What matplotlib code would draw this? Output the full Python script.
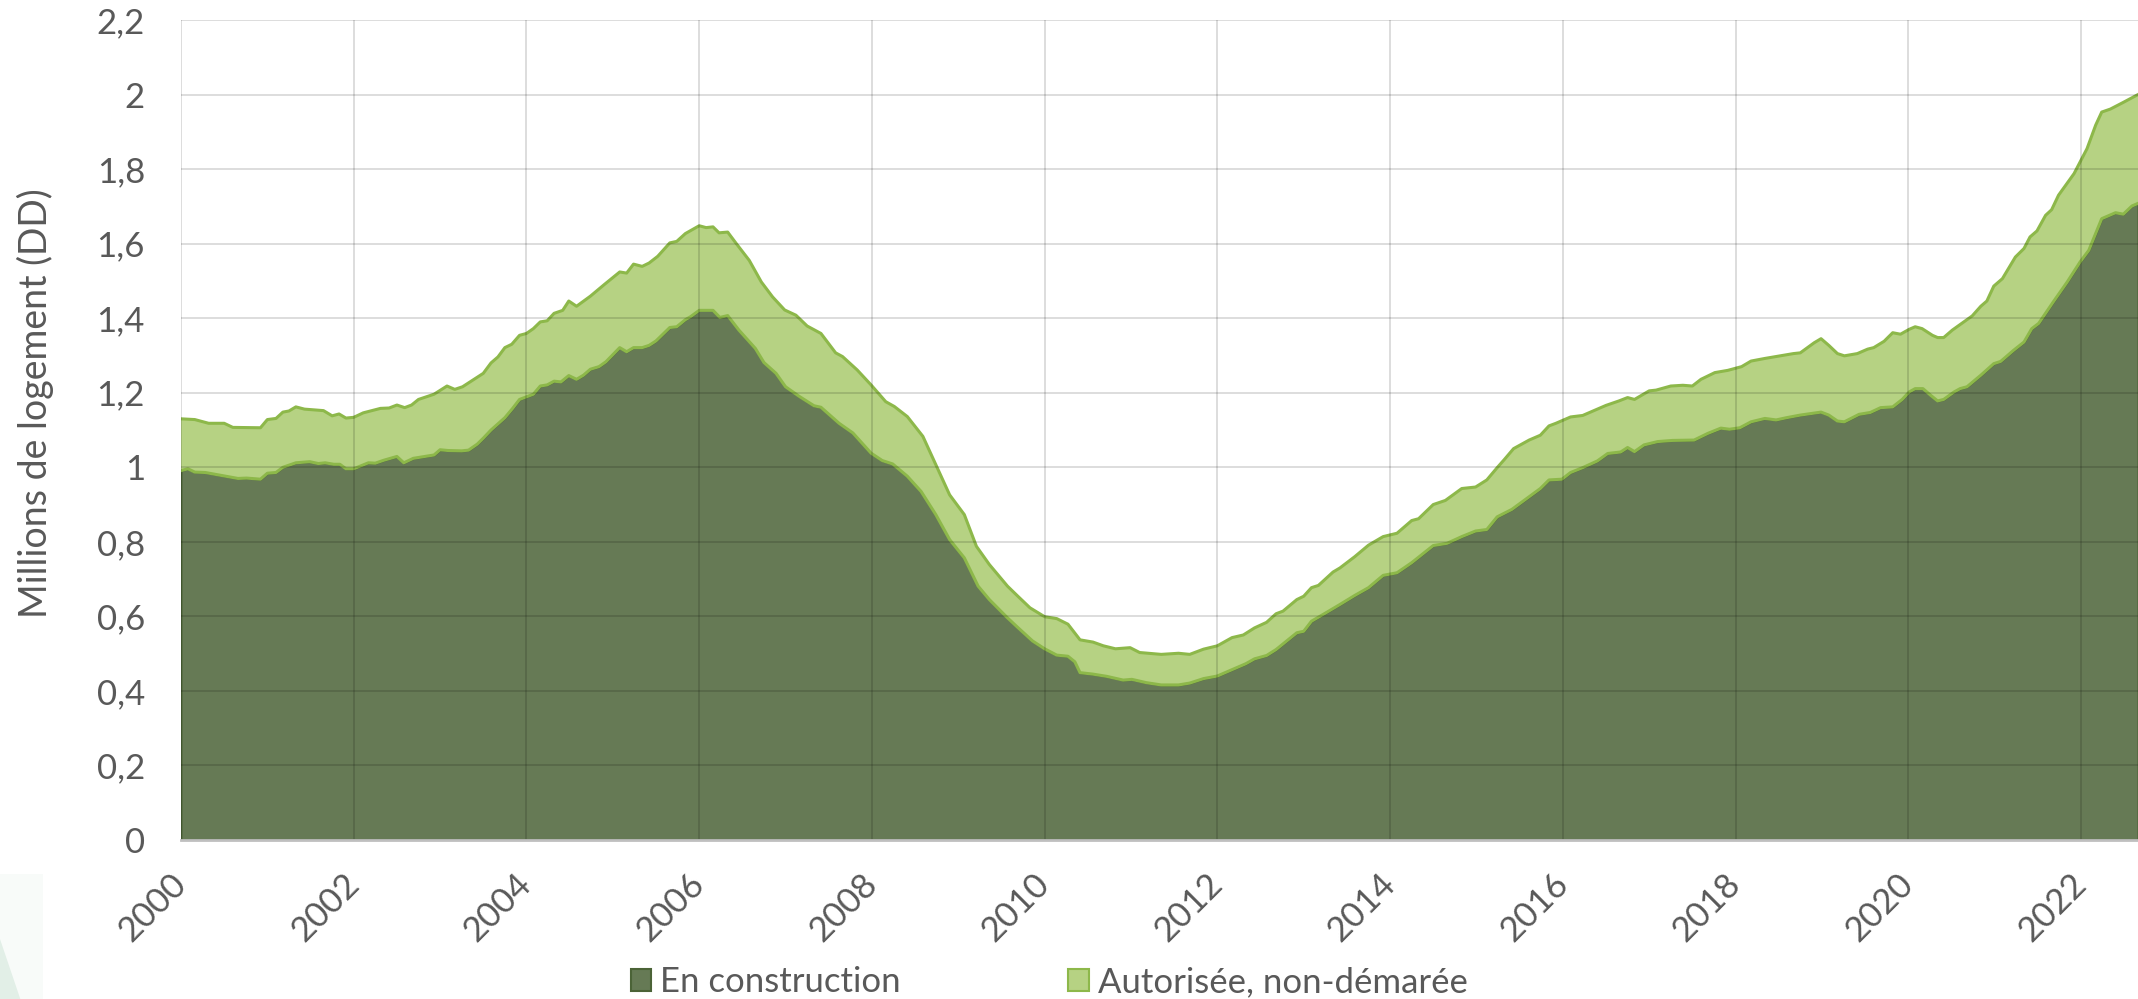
import matplotlib.pyplot as plt
import matplotlib.patches as mpatches
from matplotlib.ticker import FuncFormatter, MultipleLocator
import numpy as np

# logements autorises non demarres (haut de la pile) - annee decimale / millions
total_years = [2000.0, 2000.16, 2000.32, 2000.5, 2000.6, 2000.92, 2001.0, 2001.1, 2001.18, 2001.25,
               2001.33, 2001.43, 2001.65, 2001.75, 2001.83, 2001.91, 2002.0, 2002.11, 2002.31, 2002.41,
               2002.5, 2002.59, 2002.67, 2002.75, 2002.93, 2003.08, 2003.17, 2003.26, 2003.42, 2003.5,
               2003.59, 2003.67, 2003.75, 2003.83, 2003.92, 2004.0, 2004.08, 2004.16, 2004.24, 2004.32,
               2004.42, 2004.49, 2004.58, 2004.74, 2004.9, 2005.08, 2005.16, 2005.24, 2005.34, 2005.42,
               2005.52, 2005.66, 2005.74, 2005.84, 2006.0, 2006.08, 2006.16, 2006.23, 2006.33, 2006.43,
               2006.58, 2006.72, 2006.85, 2006.99, 2007.12, 2007.25, 2007.41, 2007.58, 2007.66, 2007.83,
               2007.99, 2008.16, 2008.26, 2008.41, 2008.59, 2008.74, 2008.9, 2009.07, 2009.21, 2009.36,
               2009.57, 2009.69, 2009.83, 2010.0, 2010.14, 2010.27, 2010.41, 2010.56, 2010.68, 2010.82,
               2010.99, 2011.1, 2011.35, 2011.55, 2011.68, 2011.84, 2012.0, 2012.17, 2012.3, 2012.43,
               2012.57, 2012.68, 2012.76, 2012.92, 2013.0, 2013.09, 2013.17, 2013.34, 2013.42, 2013.59,
               2013.75, 2013.92, 2014.08, 2014.25, 2014.33, 2014.5, 2014.64, 2014.83, 2014.99, 2015.12,
               2015.24, 2015.32, 2015.43, 2015.61, 2015.74, 2015.84, 2015.92, 2016.09, 2016.23, 2016.4,
               2016.5, 2016.65, 2016.75, 2016.83, 2017.0, 2017.08, 2017.25, 2017.39, 2017.5, 2017.6,
               2017.76, 2017.91, 2018.07, 2018.18, 2018.34, 2018.52, 2018.67, 2018.75, 2018.91, 2018.99,
               2019.08, 2019.18, 2019.26, 2019.41, 2019.53, 2019.6, 2019.72, 2019.82, 2019.91, 2020.01,
               2020.08, 2020.16, 2020.28, 2020.34, 2020.41, 2020.51, 2020.6, 2020.74, 2020.84, 2020.91,
               2020.99, 2021.09, 2021.24, 2021.34, 2021.41, 2021.49, 2021.59, 2021.66, 2021.74, 2021.92,
               2022.07, 2022.17, 2022.24, 2022.34, 2022.49, 2022.66]
total_vals = [1.130, 1.128, 1.118, 1.118, 1.107, 1.106, 1.128, 1.131, 1.148, 1.151,
              1.162, 1.156, 1.152, 1.138, 1.143, 1.132, 1.134, 1.146, 1.158, 1.159,
              1.167, 1.160, 1.167, 1.182, 1.196, 1.218, 1.209, 1.216, 1.240, 1.252,
              1.280, 1.296, 1.321, 1.330, 1.354, 1.359, 1.372, 1.390, 1.393, 1.413,
              1.421, 1.446, 1.432, 1.459, 1.490, 1.524, 1.521, 1.545, 1.539, 1.548,
              1.566, 1.602, 1.606, 1.627, 1.648, 1.643, 1.645, 1.629, 1.631, 1.600,
              1.555, 1.497, 1.457, 1.422, 1.408, 1.379, 1.359, 1.307, 1.297, 1.261,
              1.221, 1.176, 1.163, 1.136, 1.083, 1.007, 0.926, 0.873, 0.788, 0.739,
              0.681, 0.654, 0.623, 0.599, 0.594, 0.579, 0.537, 0.531, 0.521, 0.513,
              0.516, 0.503, 0.498, 0.501, 0.498, 0.512, 0.521, 0.543, 0.550, 0.569,
              0.584, 0.607, 0.614, 0.645, 0.654, 0.677, 0.683, 0.719, 0.730, 0.760,
              0.791, 0.814, 0.823, 0.857, 0.862, 0.900, 0.911, 0.943, 0.947, 0.966,
              0.999, 1.020, 1.050, 1.073, 1.086, 1.111, 1.118, 1.135, 1.139, 1.156,
              1.166, 1.178, 1.187, 1.182, 1.205, 1.207, 1.218, 1.220, 1.218, 1.236,
              1.254, 1.260, 1.270, 1.285, 1.292, 1.299, 1.305, 1.307, 1.334, 1.345,
              1.327, 1.305, 1.299, 1.305, 1.317, 1.321, 1.338, 1.361, 1.357, 1.370,
              1.377, 1.372, 1.354, 1.348, 1.348, 1.368, 1.383, 1.406, 1.432, 1.446,
              1.486, 1.506, 1.564, 1.587, 1.618, 1.634, 1.676, 1.691, 1.730, 1.788,
              1.855, 1.918, 1.953, 1.961, 1.979, 2.000]

# logements en construction
constr_years = [2000.0, 2000.08, 2000.16, 2000.28, 2000.4, 2000.66, 2000.76, 2000.92, 2001.0, 2001.1,
                2001.18, 2001.33, 2001.49, 2001.59, 2001.67, 2001.77, 2001.84, 2001.91, 2002.0, 2002.17,
                2002.25, 2002.35, 2002.5, 2002.58, 2002.69, 2002.93, 2003.0, 2003.09, 2003.25, 2003.33,
                2003.43, 2003.5, 2003.59, 2003.75, 2003.84, 2003.92, 2004.08, 2004.16, 2004.24, 2004.32,
                2004.4, 2004.49, 2004.58, 2004.66, 2004.74, 2004.84, 2004.92, 2005.08, 2005.16, 2005.24,
                2005.34, 2005.42, 2005.5, 2005.66, 2005.74, 2005.84, 2005.9, 2006.0, 2006.16, 2006.24,
                2006.33, 2006.46, 2006.65, 2006.75, 2006.89, 2007.0, 2007.16, 2007.33, 2007.41, 2007.62,
                2007.78, 2007.99, 2008.12, 2008.24, 2008.41, 2008.57, 2008.74, 2008.9, 2009.07, 2009.23,
                2009.36, 2009.57, 2009.69, 2009.86, 2010.0, 2010.14, 2010.27, 2010.35, 2010.41, 2010.56,
                2010.72, 2010.91, 2011.01, 2011.18, 2011.35, 2011.55, 2011.68, 2011.84, 2012.0, 2012.2,
                2012.33, 2012.43, 2012.57, 2012.68, 2012.92, 2013.0, 2013.09, 2013.26, 2013.42, 2013.59,
                2013.75, 2013.92, 2014.08, 2014.25, 2014.5, 2014.66, 2014.83, 2014.99, 2015.12, 2015.24,
                2015.41, 2015.57, 2015.74, 2015.84, 2015.99, 2016.09, 2016.23, 2016.4, 2016.52, 2016.67,
                2016.75, 2016.83, 2016.94, 2017.1, 2017.27, 2017.52, 2017.68, 2017.83, 2017.93, 2018.05,
                2018.18, 2018.34, 2018.47, 2018.59, 2018.75, 2018.99, 2019.08, 2019.18, 2019.26, 2019.43,
                2019.56, 2019.68, 2019.82, 2019.93, 2020.01, 2020.08, 2020.17, 2020.26, 2020.34, 2020.41,
                2020.53, 2020.6, 2020.68, 2020.84, 2020.99, 2021.07, 2021.22, 2021.34, 2021.43, 2021.51,
                2021.68, 2021.84, 2021.99, 2022.09, 2022.17, 2022.24, 2022.4, 2022.49, 2022.59, 2022.66]
constr_vals = [0.991, 0.996, 0.987, 0.986, 0.981, 0.970, 0.971, 0.968, 0.984, 0.986,
               1.000, 1.012, 1.015, 1.010, 1.012, 1.008, 1.008, 0.996, 0.996, 1.012,
               1.011, 1.019, 1.029, 1.012, 1.024, 1.033, 1.047, 1.045, 1.044, 1.046,
               1.062, 1.078, 1.100, 1.133, 1.158, 1.182, 1.196, 1.218, 1.221, 1.231,
               1.229, 1.246, 1.236, 1.247, 1.263, 1.270, 1.283, 1.321, 1.310, 1.321,
               1.321, 1.327, 1.339, 1.375, 1.377, 1.396, 1.404, 1.421, 1.421, 1.402,
               1.407, 1.368, 1.319, 1.281, 1.252, 1.216, 1.190, 1.165, 1.161, 1.118,
               1.092, 1.038, 1.018, 1.009, 0.976, 0.935, 0.873, 0.806, 0.757, 0.681,
               0.645, 0.596, 0.570, 0.534, 0.513, 0.496, 0.493, 0.478, 0.449, 0.445,
               0.439, 0.429, 0.431, 0.422, 0.416, 0.416, 0.421, 0.433, 0.440, 0.460,
               0.473, 0.486, 0.495, 0.511, 0.556, 0.560, 0.587, 0.610, 0.632, 0.656,
               0.677, 0.710, 0.717, 0.744, 0.790, 0.796, 0.814, 0.829, 0.833, 0.867,
               0.887, 0.914, 0.943, 0.966, 0.968, 0.986, 0.999, 1.017, 1.037, 1.041,
               1.053, 1.042, 1.060, 1.069, 1.072, 1.073, 1.091, 1.105, 1.102, 1.106,
               1.122, 1.131, 1.127, 1.133, 1.140, 1.148, 1.140, 1.124, 1.122, 1.142,
               1.147, 1.160, 1.162, 1.182, 1.202, 1.211, 1.211, 1.193, 1.178, 1.182,
               1.202, 1.211, 1.216, 1.247, 1.278, 1.284, 1.314, 1.336, 1.372, 1.386,
               1.444, 1.497, 1.551, 1.582, 1.627, 1.667, 1.683, 1.679, 1.701, 1.708]

year_ticks = list(range(2000, 2023, 2))
labels = ["En construction", "Autorisée, non-démarée"]

dark_fill = "#667A55"
dark_edge = "#4B6337"
light_fill = "#B6D283"
light_edge = "#8DB84A"
txt_col = "#595959"

plt.rcParams['font.family'] = ['Lato', 'DejaVu Sans']

fig = plt.figure(figsize=(21.38, 9.99), dpi=100, facecolor='w')

# petit decor en bas a gauche
fig.patches.append(mpatches.Rectangle((0, 0), 0.02, 0.125, transform=fig.transFigure,
                                      facecolor="#F8FBF9", edgecolor='none', zorder=0))
fig.patches.append(mpatches.Polygon([(0, 0), (0.0095, 0), (0, 0.06)], closed=True,
                                    transform=fig.transFigure, facecolor="#E2EFE7",
                                    edgecolor='none', zorder=0))

ax = fig.add_axes([181 / 2138, 1 - 840 / 999, 1 - 181 / 2138, (840 - 20) / 999])
ax.set_facecolor('none')

cx = np.array(constr_years)
cy = np.array(constr_vals)
tx = np.array(total_years)
ty = np.array(total_vals)

# zone foncee: en construction
ax.fill_between(cx, 0, cy, facecolor=dark_fill, edgecolor=dark_edge, linewidth=1.5, zorder=1)
# zone claire: entre construction et total
ax.fill(np.r_[tx, cx[::-1]], np.r_[ty, cy[::-1]], facecolor=light_fill, edgecolor='none', zorder=1.2)
ax.plot(tx, ty, color=light_edge, linewidth=2.2, zorder=1.5)
ax.plot(cx, cy, color=light_edge, linewidth=2.2, zorder=1.5)

ax.set_xlim(2000, 2022.66)
ax.set_ylim(0, 2.2)
ax.yaxis.set_major_locator(MultipleLocator(0.2))
ax.yaxis.set_major_formatter(FuncFormatter(lambda v, p: ('%g' % round(v, 1)).replace('.', ',')))
ax.set_xticks(year_ticks)
ax.set_xticklabels([str(y) for y in year_ticks], rotation=45, ha='right', va='center',
                   rotation_mode='anchor')

# grille par-dessus les aires (comme dans Excel, un peu visible a travers)
ax.set_axisbelow(False)
ax.grid(True, color='black', alpha=0.15, linewidth=1.3)

for s in ['top', 'right', 'left']:
    ax.spines[s].set_visible(False)
ax.spines['bottom'].set_color('#BFBFBF')
ax.spines['bottom'].set_linewidth(2)
ax.spines['bottom'].set_zorder(3)

ax.tick_params(axis='both', length=0, labelsize=25, labelcolor=txt_col)
ax.tick_params(axis='y', pad=26)
ax.tick_params(axis='x', pad=28)

ax.set_ylabel("Millions de logement (DD)", fontsize=27, color=txt_col)
ax.yaxis.set_label_coords(-0.065, 0.533)

handles = [mpatches.Patch(facecolor=dark_fill, edgecolor=dark_edge, linewidth=1.5),
           mpatches.Patch(facecolor=light_fill, edgecolor=light_edge, linewidth=1.5)]
leg = fig.legend(handles, labels, loc='center', bbox_to_anchor=(1049 / 2138, 1 - 982 / 999),
                 ncol=2, frameon=False, fontsize=25, handlelength=0.6, handleheight=0.6,
                 handletextpad=0.26, columnspacing=4.8)
for t in leg.get_texts():
    t.set_color(txt_col)

fig.savefig("out.png", dpi=100, facecolor='w')
